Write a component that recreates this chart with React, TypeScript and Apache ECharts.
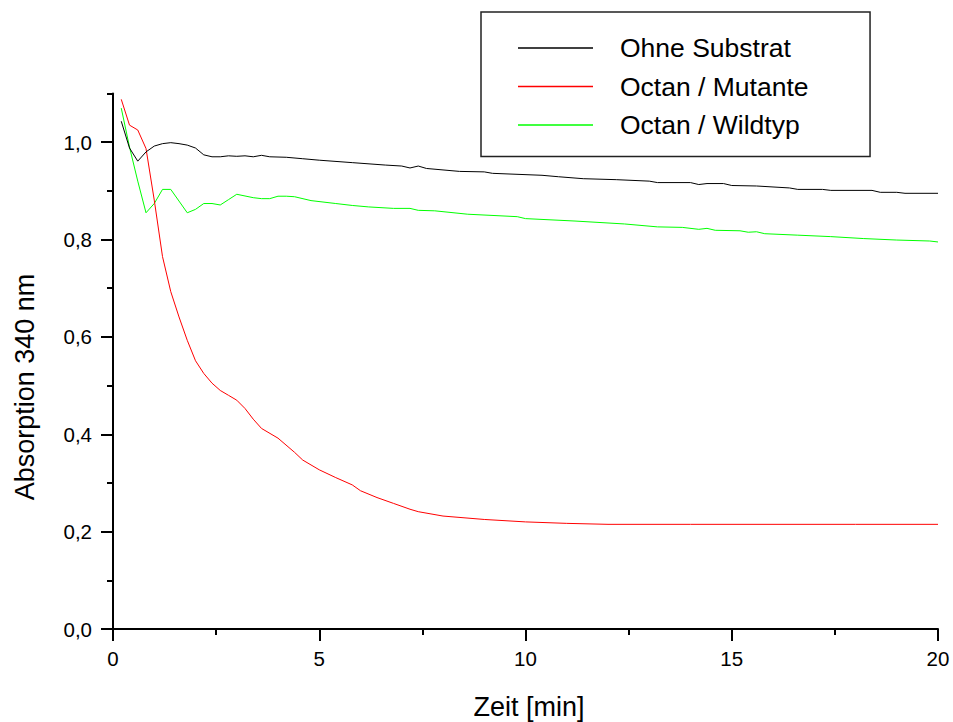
import React, { useEffect, useRef } from "react";
import * as echarts from "echarts";

// Time (min) and absorption values
const blackTimes = [0.2, 0.4, 0.6, 0.8, 1.0, 1.2, 1.4, 1.6, 1.8, 2.0, 2.2, 2.4, 2.6, 2.8, 3.0, 3.2, 3.4, 3.6, 3.8, 4.2, 4.6, 5.0, 5.8, 6.6, 7.0, 7.2, 7.4, 7.6, 8.4, 9.0, 9.2, 10.4, 10.8, 11.4, 12.2, 13.0, 13.2, 14.0, 14.2, 14.4, 14.8, 15.0, 15.6, 16.0, 16.4, 16.6, 17.2, 17.4, 18.4, 18.6, 19.0, 19.2, 20.0];
const blackValues = [1.043, 0.988, 0.961, 0.98, 0.992, 0.997, 0.999, 0.997, 0.994, 0.988, 0.974, 0.97, 0.97, 0.972, 0.971, 0.972, 0.97, 0.973, 0.97, 0.969, 0.966, 0.963, 0.958, 0.953, 0.951, 0.947, 0.951, 0.946, 0.94, 0.939, 0.936, 0.932, 0.929, 0.925, 0.923, 0.92, 0.917, 0.917, 0.913, 0.915, 0.915, 0.911, 0.91, 0.908, 0.906, 0.903, 0.903, 0.901, 0.901, 0.897, 0.897, 0.895, 0.895];

const redTimes = [0.2, 0.4, 0.6, 0.8, 1.0, 1.2, 1.4, 1.6, 1.8, 2.0, 2.2, 2.4, 2.6, 2.8, 3.0, 3.2, 3.4, 3.6, 4.0, 4.4, 4.6, 5.0, 5.4, 5.8, 6.0, 6.4, 6.8, 7.2, 7.4, 8.0, 9.0, 10.0, 11.0, 12.0, 14.0, 16.0, 18.0, 20.0];
const redValues = [1.088, 1.035, 1.025, 0.987, 0.881, 0.765, 0.693, 0.641, 0.593, 0.551, 0.525, 0.505, 0.49, 0.48, 0.47, 0.453, 0.431, 0.412, 0.392, 0.363, 0.347, 0.327, 0.311, 0.296, 0.284, 0.27, 0.258, 0.246, 0.241, 0.232, 0.225, 0.22, 0.217, 0.215, 0.215, 0.215, 0.215, 0.215];

const greenTimes = [0.2, 0.4, 0.6, 0.8, 1.0, 1.2, 1.4, 1.6, 1.8, 2.0, 2.2, 2.4, 2.6, 2.8, 3.0, 3.4, 3.6, 3.8, 4.0, 4.2, 4.4, 4.8, 5.4, 5.8, 6.2, 6.8, 7.2, 7.4, 7.8, 8.6, 9.8, 10.0, 11.2, 12.4, 13.2, 13.8, 14.2, 14.4, 14.6, 15.2, 15.4, 15.6, 15.8, 16.6, 17.4, 18.2, 19.0, 19.8, 20.0];
const greenValues = [1.07, 0.99, 0.92, 0.855, 0.874, 0.903, 0.903, 0.879, 0.855, 0.862, 0.874, 0.874, 0.871, 0.882, 0.893, 0.886, 0.884, 0.884, 0.889, 0.889, 0.888, 0.88, 0.874, 0.87, 0.867, 0.864, 0.864, 0.86, 0.859, 0.852, 0.847, 0.843, 0.838, 0.832, 0.826, 0.825, 0.821, 0.823, 0.819, 0.818, 0.815, 0.816, 0.812, 0.809, 0.806, 0.802, 0.799, 0.797, 0.795];

const seriesNames = ["Ohne Substrat", "Octan / Mutante", "Octan / Wildtyp"];
const seriesColors = ["#000000", "#ff0000", "#00ff00"];
const majorYTicks = [0, 0.2, 0.4, 0.6, 0.8, 1.0];
const xTitle = "Zeit [min]";
const yTitle = "Absorption 340 nm";

const FONT = "'Liberation Sans', Arial, sans-serif";

function pairs(t: number[], v: number[]) {
  return t.map((x, i) => [x, v[i]]);
}

export default function App() {
  const ref = useRef<HTMLDivElement>(null);
  useEffect(() => {
    if (!ref.current) return;
    const chart = echarts.init(ref.current, undefined, { renderer: "svg" });
    const datasets = [
      pairs(blackTimes, blackValues),
      pairs(redTimes, redValues),
      pairs(greenTimes, greenValues),
    ];
    chart.setOption({
      animation: false,
      backgroundColor: "#ffffff",
      grid: { left: 113, right: 15, top: 93.5, bottom: 93, containLabel: false },
      legend: {
        orient: "vertical",
        left: 481,
        top: 12,
        padding: [22.5, 61.5, 18, 37],
        borderColor: "#222",
        borderWidth: 1.5,
        icon: "rect",
        itemWidth: 75,
        itemHeight: 1.5,
        itemGap: 11.5,
        data: seriesNames,
        textStyle: {
          fontFamily: FONT,
          fontSize: 26.5,
          lineHeight: 27,
          color: "#000",
          padding: [0, 0, 0, 22],
        },
      },
      xAxis: {
        type: "value",
        min: 0,
        max: 20,
        interval: 5,
        axisLine: { show: true, onZero: false, lineStyle: { color: "#000", width: 2 } },
        axisTick: { show: true, inside: false, length: 12, lineStyle: { color: "#000", width: 2 } },
        minorTick: { show: true, splitNumber: 2, length: 6, lineStyle: { color: "#000", width: 2 } },
        splitLine: { show: false },
        minorSplitLine: { show: false },
        axisLabel: { margin: 19, fontFamily: FONT, fontSize: 20.5, color: "#000" },
      },
      yAxis: [
        {
          type: "value",
          min: 0,
          max: 1.1,
          interval: 0.2,
          axisLine: { show: true, onZero: false, lineStyle: { color: "#000", width: 2 } },
          axisTick: {
            show: true,
            inside: false,
            length: 12,
            customValues: majorYTicks,
            lineStyle: { color: "#000", width: 2 },
          },
          splitLine: { show: false },
          axisLabel: {
            margin: 21,
            fontFamily: FONT,
            fontSize: 20.5,
            color: "#000",
            customValues: majorYTicks,
            formatter: (v: number) => (v > 1.05 ? "" : v.toFixed(1).replace(".", ",")),
          },
        },
        {
          type: "value",
          min: 0,
          max: 1.1,
          interval: 0.1,
          position: "left",
          axisLine: { show: false },
          axisTick: { show: true, inside: false, length: 6, lineStyle: { color: "#000", width: 2 } },
          axisLabel: { show: false },
          splitLine: { show: false },
        },
      ],
      series: seriesNames.map((name, i) => ({
        name,
        type: "line",
        yAxisIndex: 0,
        data: datasets[i],
        symbol: "none",
        smooth: false,
        lineStyle: { color: seriesColors[i], width: 1 },
        itemStyle: { color: seriesColors[i] },
        z: 3 - i,
      })),
      graphic: [
        {
          type: "text",
          x: 529,
          y: 707,
          style: {
            text: xTitle,
            fontFamily: FONT,
            fontSize: 27,
            fill: "#000",
            align: "center",
            verticalAlign: "middle",
          },
        },
        {
          type: "text",
          x: 25,
          y: 387,
          rotation: Math.PI / 2,
          style: {
            text: yTitle,
            fontFamily: FONT,
            fontSize: 27,
            fill: "#000",
            align: "center",
            verticalAlign: "middle",
          },
        },
      ],
    });
    return () => chart.dispose();
  }, []);
  return (
    <div
      ref={ref}
      style={{ position: "fixed", left: 0, top: 0, width: 953, height: 722, overflow: "hidden" }}
    />
  );
}
